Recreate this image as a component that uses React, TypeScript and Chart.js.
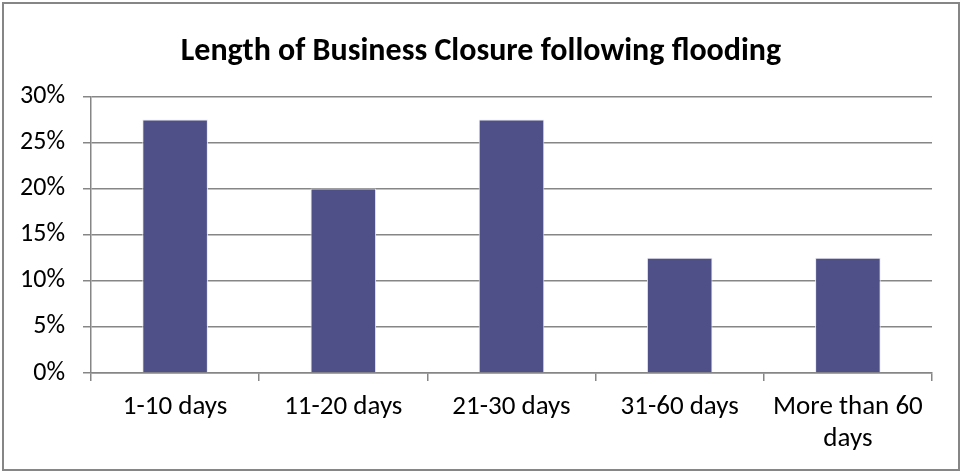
import React, { useEffect, useRef } from "react";
import { Chart, registerables } from "chart.js";

Chart.register(...registerables);

const titleText = "Length of Business Closure following flooding";
const categories: (string | string[])[] = [
  "1-10 days",
  "11-20 days",
  "21-30 days",
  "31-60 days",
  ["More than 60", "days"],
];
const shares = [27.5, 20, 27.5, 12.5, 12.5];
const yTickStep = 5;
const yMax = 30;

const FONT = "Carlito, Lato, 'Open Sans', sans-serif";
const GREY = "#868686";

const borderPlugin = {
  id: "outerBorder",
  beforeDraw(chart: any) {
    const { ctx, width, height } = chart;
    ctx.save();
    ctx.fillStyle = "#ffffff";
    ctx.fillRect(0, 0, width, height);
    ctx.strokeStyle = GREY;
    ctx.lineWidth = 2;
    ctx.strokeRect(3, 3, width - 6, height - 5);
    ctx.restore();
  },
};

export default function App() {
  const ref = useRef<HTMLCanvasElement | null>(null);
  useEffect(() => {
    document.body.style.margin = "0";
    const chart = new Chart(ref.current!, {
      type: "bar",
      data: {
        labels: categories,
        datasets: [
          {
            data: shares,
            backgroundColor: "#4F5088",
            borderColor: "#E8E8EE",
            borderWidth: 1,
            categoryPercentage: 1,
            barPercentage: 0.39,
            yAxisID: "y",
          },
        ],
      },
      plugins: [borderPlugin],
      options: {
        animation: false,
        responsive: false,
        maintainAspectRatio: false,
        layout: { padding: 0 },
        plugins: {
          legend: { display: false },
          tooltip: { enabled: false },
          title: {
            display: true,
            text: titleText,
            color: "#000000",
            font: { family: FONT, size: 32, weight: "bold", lineHeight: 1.2 },
            padding: { top: 33, bottom: 25 },
          },
        },
        scales: {
          x: {
            grid: {
              offset: true,
              drawOnChartArea: false,
              drawTicks: true,
              tickLength: 8,
              color: GREY,
              lineWidth: 1.5,
            },
            border: { display: true, color: GREY, width: 1.5 },
            ticks: {
              color: "#000000",
              font: { family: FONT, size: 27, lineHeight: "32px" as any },
              padding: 10,
              maxRotation: 0,
              autoSkip: false,
            },
            afterFit(scale: any) {
              scale.height = 99;
            },
          },
          y: {
            min: 0,
            max: yMax,
            grid: {
              color: GREY,
              lineWidth: 1.5,
              drawTicks: true,
              tickLength: 8,
            },
            border: { display: true, color: GREY, width: 1.5 },
            ticks: {
              stepSize: yTickStep,
              color: "#000000",
              font: { family: FONT, size: 26 },
              padding: 18,
              callback: (v: any) => `${v}%`,
            },
            afterFit(scale: any) {
              scale.width = 91;
            },
          },
          spacer: {
            type: "linear",
            position: "right",
            display: true,
            grid: { display: false, drawTicks: false },
            border: { display: false },
            ticks: { display: false },
            afterFit(scale: any) {
              scale.width = 30;
            },
          },
        },
      },
    });
    return () => chart.destroy();
  }, []);
  return (
    <div style={{ width: 962, height: 472 }}>
      <canvas ref={ref} width={962} height={472} style={{ display: "block" }} />
    </div>
  );
}
